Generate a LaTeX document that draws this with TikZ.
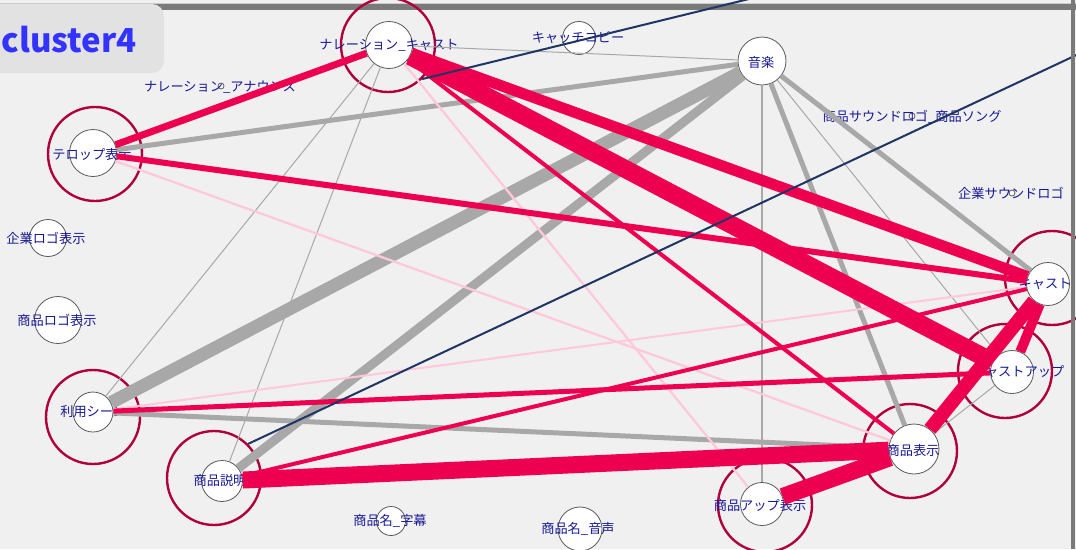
\documentclass[tikz,border=0pt]{standalone}
\usepackage{fontspec}
\setmainfont{Noto Sans CJK JP}
\usetikzlibrary{shapes}

\definecolor{bgcol}{RGB}{240,240,240}
\definecolor{boxcol}{RGB}{226,226,226}
\definecolor{barcol}{RGB}{122,122,122}
\definecolor{titlecol}{RGB}{51,51,255}
\definecolor{labcol}{RGB}{25,25,150}
\definecolor{ringcol}{RGB}{175,0,60}
\definecolor{linkred}{RGB}{238,0,80}
\definecolor{linkpink}{RGB}{255,200,220}
\definecolor{linkgray}{RGB}{168,168,168}
\definecolor{linknavy}{RGB}{31,53,99}

\begin{document}
\begin{tikzpicture}[x=1pt,y=-1pt,
  every node/.style={inner sep=0pt},
  member/.style={circle,draw=black!65,fill=white,line width=0.8pt},
  ring/.style={circle,draw=ringcol,line width=2.4pt,minimum size=94pt},
  lbl/.style={text=labcol,font=\fontsize{13.2}{14}\selectfont},
  strong/.style={draw=linkred},
  weak/.style={draw=linkpink,line width=2.3pt},
  plain/.style={draw=linkgray},
  outside/.style={draw=linknavy,line width=2pt}]

\useasboundingbox (0,0) rectangle (1076,549);
\clip (0,0) rectangle (1076,549);
\fill[bgcol] (0,0) rectangle (1076,549);
\draw[gray!40,line width=0.8pt] (0,3) -- (1076,3);
\fill[barcol] (0,3.5) rectangle (1076,9.5);
\fill[boxcol,rounded corners=12pt] (-12,4) rectangle (164,73);
\node[anchor=base east,text=titlecol,font=\fontsize{33}{33}\selectfont\bfseries] (title) at (137,52) {cluster4};

% rings
\node[ring] (ncring) at (388,45) {};
\node[ring] (telring) at (95,154) {};
\node[ring] (scring) at (93,417) {};
\node[ring] (sdring) at (214,478) {};
\node[ring] (upring) at (765,505) {};
\node[ring] (psring) at (910,451) {};
\node[ring] (caring) at (1005,371) {};
\node[ring] (cring) at (1052,278) {};

% members
\node[member,minimum size=47pt] (nc) at (389,45) {};
\node[member,minimum size=33pt] (catch) at (579,38) {};
\node[member,minimum size=48pt] (music) at (762,61) {};
\node[member,minimum size=6pt] (ann) at (221,86) {};
\node[member,minimum size=6pt] (song) at (912,116) {};
\node[member,minimum size=6pt] (slogo) at (1012,193) {};
\node[member,minimum size=47pt] (telop) at (93,153) {};
\node[member,minimum size=37pt] (clogo) at (48,238) {};
\node[member,minimum size=47pt] (plogo) at (58,320) {};
\node[member,minimum size=40pt] (scene) at (93,412) {};
\node[member,minimum size=41pt] (desc) at (222,481) {};
\node[member,minimum size=29pt] (nsub) at (391,521) {};
\node[member,minimum size=44pt] (nvoice) at (580,529) {};
\node[member,minimum size=43pt] (pup) at (762,504) {};
\node[member,minimum size=50pt] (pshow) at (914,449) {};
\node[member,minimum size=43pt] (castup) at (1012,372) {};
\node[member,minimum size=43pt] (cast) at (1048,284) {};

\node[lbl] (nc-t) at (389,45) {ナレーション\_キャスト};
\node[lbl] (catch-t) at (578,38) {キャッチコピー};
\node[lbl] (music-t) at (761,62) {音楽};
\node[lbl] (ann-t) at (220,87) {ナレーション\_アナウンス};
\node[lbl] (song-t) at (912,117) {商品サウンドロゴ\_商品ソング};
\node[lbl] (slogo-t) at (1011,193) {企業サウンドロゴ};
\node[lbl] (telop-t) at (92,154) {テロップ表示};
\node[lbl] (clogo-t) at (46,238) {企業ロゴ表示};
\node[lbl] (plogo-t) at (57,320) {商品ロゴ表示};
\node[lbl] (scene-t) at (93,412) {利用シーン};
\node[lbl] (desc-t) at (220,481) {商品説明};
\node[lbl] (nsub-t) at (390,521) {商品名\_字幕};
\node[lbl] (nvoice-t) at (578,529) {商品名\_音声};
\node[lbl] (pup-t) at (760,505) {商品アップ表示};
\node[lbl] (pshow-t) at (913,450) {商品表示};
\node[lbl] (castup-t) at (1018,372) {キャストアップ};
\node[lbl] (cast-t) at (1045,284) {キャスト};

% edges
\draw[plain,line width=1pt] (nc) -- (music);
\draw[plain,line width=1pt] (nc) -- (desc);
\draw[plain,line width=1pt] (nc) -- (scene);
\draw[plain,line width=5pt] (telop) -- (music);
\draw[plain,line width=13pt] (music) -- (scene);
\draw[plain,line width=9pt] (music) -- (desc);
\draw[plain,line width=1.5pt] (music) -- (pup);
\draw[plain,line width=5pt] (music) -- (pshow);
\draw[plain,line width=1pt] (music) -- (castup);
\draw[plain,line width=5pt] (music) -- (cast);
\draw[plain,line width=5pt] (scene) -- (pshow);
\draw[plain,line width=1pt] (pshow) -- (castup);

\draw[weak] (telop) -- (pshow);
\draw[weak] (nc) -- (pup);
\draw[weak,line width=2pt] (scene) -- (cast);

\draw[strong,line width=7pt] (telop) -- (nc);
\draw[strong,line width=6pt] (telop) -- (cast);
\draw[strong,line width=11pt] (nc) -- (cast);
\draw[strong,line width=18pt] (nc) -- (castup);
\draw[strong,line width=4pt] (nc) -- (pshow);
\draw[strong,line width=5pt] (scene) -- (castup);
\draw[strong,line width=17pt] (desc) -- (pshow);
\draw[strong,line width=4pt] (desc) -- (cast);
\draw[strong,line width=14pt] (pshow) -- (cast);
\draw[strong,line width=17pt] (pshow) -- (pup);
\draw[strong,line width=10pt] (castup) -- (cast);

\coordinate (offa) at (900,-38);
\coordinate (offb) at (1200,-3);
\draw[outside] (ncring.-45) -- (offa);
\draw[outside] (sdring.45) -- (offb);

\fill[barcol] (1071,0) rectangle (1074.5,549);
\end{tikzpicture}
\end{document}
